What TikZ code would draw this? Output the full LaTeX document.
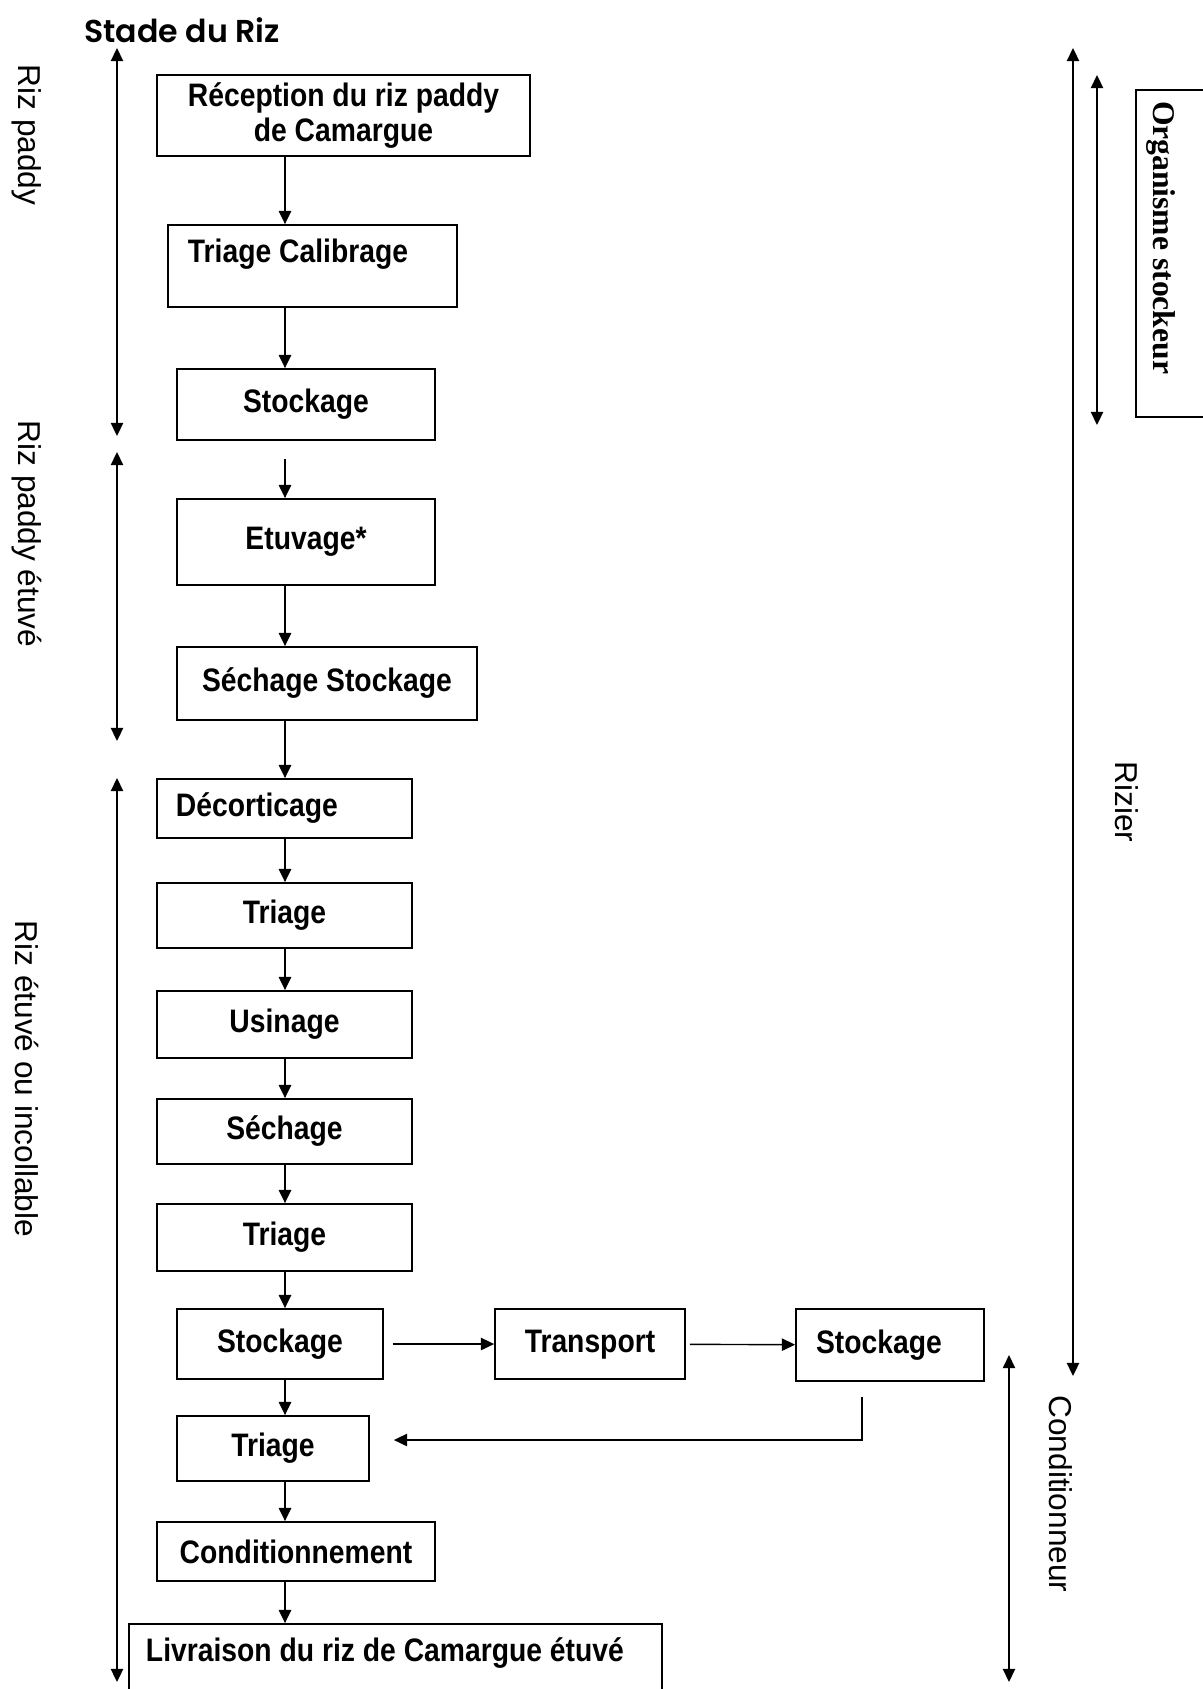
\documentclass[tikz,border=0pt]{standalone}
\usepackage{fontspec}
\setmainfont{Liberation Sans}
\newfontfamily\boxfont[FakeStretch=0.87]{Liberation Sans}
\newfontfamily\stadefont{Poppins SemiBold}
\newfontfamily\orgfont{Liberation Serif}
\usetikzlibrary{arrows.meta, positioning}

\tikzset{
  box/.style={draw, line width=1pt, align=center,
    font=\boxfont\bfseries\fontsize{18.5}{19.5}\selectfont},
  side/.style={rotate=-90, font=\fontsize{18}{21}\selectfont},
  flow/.style={line width=1pt, -{Triangle[length=7.5pt,width=7pt]}},
  both/.style={line width=1pt, {Triangle[length=7.5pt,width=7pt]}-{Triangle[length=7.5pt,width=7pt]}}
}

\begin{document}
\begin{tikzpicture}[x=0.2mm, y=-0.2mm]
    \useasboundingbox (0,0) rectangle (1203,1689);
    \node[anchor=west, font=\stadefont\fontsize{18}{21}\selectfont] (stade) at (78,30) {Stade du Riz};

    % boxes
    \node[box, minimum width=74.6mm, minimum height=16.2mm] (recep) at (343.5,115.5) {Réception du riz paddy\\de Camargue};
    \node[box, minimum width=57.8mm, minimum height=16.4mm, inner xsep=4mm, inner ysep=0pt,
          text width=49.8mm, align=flush left, text height=7.4mm, text depth=9mm] (calib) at (312.5,266) {Triage Calibrage};
    \node[box, minimum width=51.6mm, minimum height=14.2mm] (stockA) at (306,404.5) {Stockage};
    \node[box, minimum width=51.6mm, minimum height=17.2mm] (etuv) at (306,542) {Etuvage*};
    \node[box, minimum width=60mm, minimum height=14.6mm] (sechstock) at (327,683.5) {Séchage Stockage};
    \node[box, minimum width=51mm, minimum height=11.8mm, inner xsep=3.8mm,
          text width=43.4mm, align=flush left] (decort) at (284.5,808.5) {Décorticage};
    \node[box, minimum width=51mm, minimum height=13mm] (triA) at (284.5,915.5) {Triage};
    \node[box, minimum width=51mm, minimum height=13.4mm] (usin) at (284.5,1024.5) {Usinage};
    \node[box, minimum width=51mm, minimum height=13mm] (sech) at (284.5,1131.5) {Séchage};
    \node[box, minimum width=51mm, minimum height=13.4mm] (triB) at (284.5,1237.5) {Triage};
    \node[box, minimum width=41.2mm, minimum height=14mm, text depth=1.2mm] (stockB) at (280,1344) {Stockage};
    \node[box, minimum width=38mm, minimum height=14mm, text depth=1.2mm] (transp) at (590,1344) {Transport};
    \node[box, minimum width=37.6mm, minimum height=14.4mm, inner xsep=4mm,
          text width=29.6mm, align=flush left] (stockC) at (890,1345) {Stockage};
    \node[box, minimum width=38.4mm, minimum height=13mm] (triC) at (273,1448.5) {Triage};
    \node[box, minimum width=55.6mm, minimum height=11.8mm] (cond) at (296,1551.5) {Conditionnement};
    \node[box, minimum width=106.6mm, minimum height=19.2mm, inner xsep=3.4mm, inner ysep=0pt,
          text width=99.8mm, align=flush left, text height=7.4mm, text depth=11.8mm] (livr) at (395.5,1672) {Livraison du riz de Camargue étuvé};

    % main flow
    \coordinate (spine) at (285,0);
    \draw[flow] (recep.south -| spine) -- (calib.north -| spine);
    \draw[flow] (calib.south -| spine) -- (stockA.north -| spine);
    \draw[flow, shorten <=3.6mm] (stockA.south -| spine) -- (etuv.north -| spine);
    \draw[flow] (etuv.south -| spine) -- (sechstock.north -| spine);
    \draw[flow] (sechstock.south -| spine) -- (decort.north -| spine);
    \draw[flow] (decort.south -| spine) -- (triA.north -| spine);
    \draw[flow] (triA.south -| spine) -- (usin.north -| spine);
    \draw[flow] (usin.south -| spine) -- (sech.north -| spine);
    \draw[flow] (sech.south -| spine) -- (triB.north -| spine);
    \draw[flow] (triB.south -| spine) -- (stockB.north -| spine);
    \draw[flow] (stockB.south -| spine) -- (triC.north -| spine);
    \draw[flow] (triC.south -| spine) -- (cond.north -| spine);
    \draw[flow] (cond.south -| spine) -- (livr.north -| spine);

    % transport loop
    \draw[flow, line width=.8pt, shorten <=1.8mm] (stockB) -- (transp);
    \draw[flow, line width=.8pt, shorten <=0.8mm] (transp) -- (stockC);
    \coordinate (retA) at (862,1397);
    \coordinate (retB) at (862,1440);
    \draw[flow, line width=.8pt, shorten >=4.8mm] (retA) -- (retB) -- (retB -| triC.east);

    % stades
    \coordinate (paddyT) at (117,48);   \coordinate (paddyB) at (117,436);
    \coordinate (etuveT) at (117,452);  \coordinate (etuveB) at (117,741);
    \coordinate (incolT) at (117,778);  \coordinate (incolB) at (117,1682);
    \draw[both] (paddyT) -- (paddyB);
    \draw[both] (etuveT) -- (etuveB);
    \draw[both] (incolT) -- (incolB);
    \node[side] (lpaddy) at (27,135) {Riz paddy};
    \node[side] (letuve) at (27,534) {Riz paddy étuvé};
    \node[side] (lincol) at (27,1079) {Riz étuvé ou incollable};

    % acteurs
    \coordinate (rizT) at (1073,48);    \coordinate (rizB) at (1073,1376);
    \coordinate (orgT) at (1097,75);    \coordinate (orgB) at (1097,425);
    \coordinate (condT) at (1009,1355); \coordinate (condB) at (1009,1682);
    \draw[both] (rizT) -- (rizB);
    \draw[both] (orgT) -- (orgB);
    \draw[both, line width=.8pt] (condT) -- (condB);
    \node[side] (lriz) at (1127,802) {Rizier};
    \node[side] (lcond) at (1061,1494) {Conditionneur};
    \node[draw, line width=1pt, rotate=-90, inner xsep=2.2mm, inner ysep=0pt,
          text width=61mm, align=flush left, text height=13.4mm, text depth=3.4mm,
          font=\orgfont\bfseries\fontsize{18}{21}\selectfont] (org) at (1178,253.5) {Organisme stockeur};
\end{tikzpicture}
\end{document}
